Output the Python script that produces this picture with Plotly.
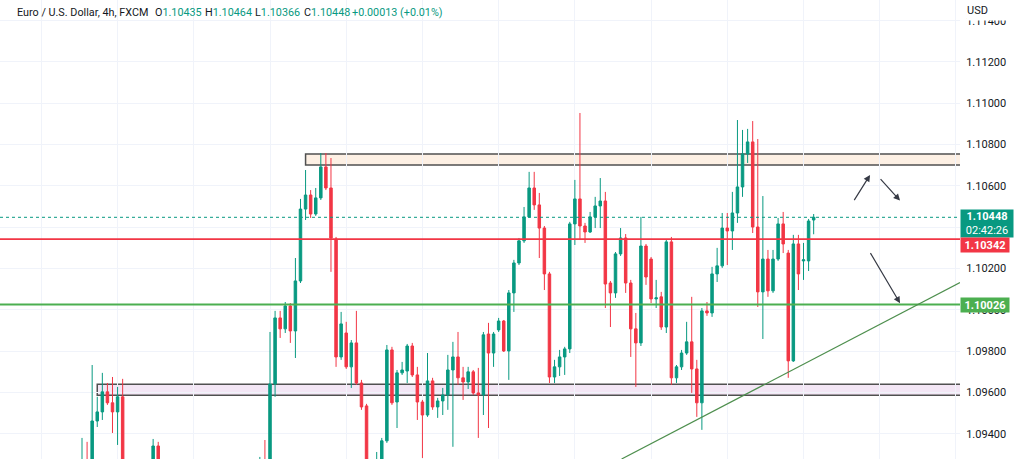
import plotly.graph_objects as go

# ---------------- data (EUR/USD 4h) ----------------
bar_index = list(range(145))

opens = [1.09201, 1.09264, 1.09249, 1.09462, 1.09506, 1.09603, 1.09550, 1.09506, 1.09579, 1.09201,
         1.09080, 1.09128, 1.09235, 1.09153, 1.09225, 1.09341, 1.09225, 1.09104, 1.09032, 1.09128,
         1.09056, 1.08983, 1.09080, 1.09128, 1.09056, 1.09104, 1.09177, 1.09128, 1.09201, 1.09153,
         1.09225, 1.09185, 1.09235, 1.09177, 1.09215, 1.09177, 1.09264, 1.09235, 1.09641, 1.09961,
         1.09908, 1.10019, 1.09898, 1.10140, 1.10488, 1.10556, 1.10464, 1.10542, 1.10692, 1.10590,
         1.10343, 1.09772, 1.09888, 1.09724, 1.09840, 1.09646, 1.09535, 1.09235, 1.09196, 1.09264,
         1.09366, 1.09806, 1.09554, 1.09695, 1.09704, 1.09825, 1.09685, 1.09554, 1.09491, 1.09656,
         1.09530, 1.09559, 1.09588, 1.09709, 1.09772, 1.09671, 1.09651, 1.09700, 1.09598, 1.09588,
         1.09883, 1.09791, 1.09903, 1.09946, 1.09801, 1.10082, 1.10227, 1.10334, 1.10450, 1.10590,
         1.10508, 1.10396, 1.10174, 1.09675, 1.09724, 1.09772, 1.09811, 1.10416, 1.10537, 1.10406,
         1.10377, 1.10450, 1.10503, 1.10527, 1.10130, 1.10082, 1.10271, 1.10348, 1.10130, 1.09908,
         1.09840, 1.10309, 1.10246, 1.10053, 1.10063, 1.09917, 1.10329, 1.09671, 1.09724, 1.09791,
         1.09845, 1.09714, 1.09550, 1.09995, 1.09985, 1.10174, 1.10213, 1.10396, 1.10382, 1.10469,
         1.10595, 1.10755, 1.10813, 1.10401, 1.10087, 1.10246, 1.10092, 1.10246, 1.10416, 1.10275,
         1.09753, 1.10319, 1.10237, 1.10237, 1.10435]

highs = [1.09380, 1.09361, 1.09733, 1.09579, 1.09695, 1.09646, 1.09675, 1.09627, 1.09666, 1.09225,
         1.09153, 1.09259, 1.09264, 1.09249, 1.09375, 1.09361, 1.09245, 1.09120, 1.09140, 1.09150,
         1.09070, 1.09090, 1.09140, 1.09140, 1.09120, 1.09190, 1.09190, 1.09210, 1.09220, 1.09240,
         1.09240, 1.09250, 1.09250, 1.09230, 1.09240, 1.09288, 1.09370, 1.09893, 1.09995, 1.09995,
         1.10038, 1.10033, 1.10251, 1.10537, 1.10677, 1.10580, 1.10590, 1.10759, 1.10759, 1.10735,
         1.10353, 1.09990, 1.09942, 1.09854, 1.09995, 1.09661, 1.09545, 1.09264, 1.09312, 1.09380,
         1.09830, 1.09821, 1.09709, 1.09748, 1.09835, 1.09840, 1.09724, 1.09564, 1.09791, 1.09671,
         1.09574, 1.09622, 1.09782, 1.09845, 1.09893, 1.09724, 1.09724, 1.09709, 1.09719, 1.09893,
         1.09937, 1.09893, 1.09961, 1.09951, 1.10096, 1.10242, 1.10348, 1.10498, 1.10668, 1.10668,
         1.10566, 1.10406, 1.10184, 1.09758, 1.09806, 1.09821, 1.10426, 1.10629, 1.10953, 1.10421,
         1.10474, 1.10547, 1.10638, 1.10571, 1.10140, 1.10280, 1.10396, 1.10367, 1.10145, 1.09985,
         1.10450, 1.10319, 1.10256, 1.10145, 1.10087, 1.10338, 1.10353, 1.09733, 1.09806, 1.09942,
         1.10063, 1.09758, 1.10009, 1.10038, 1.10208, 1.10300, 1.10469, 1.10469, 1.10571, 1.10919,
         1.10871, 1.10876, 1.10914, 1.10827, 1.10551, 1.10290, 1.10290, 1.10445, 1.10474, 1.10290,
         1.10363, 1.10363, 1.10324, 1.10440, 1.10464]

lows = [1.09177, 1.09185, 1.09225, 1.09433, 1.09467, 1.09540, 1.09404, 1.09346, 1.09153, 1.09056,
        1.09056, 1.09104, 1.09128, 1.09119, 1.09201, 1.09185, 1.09080, 1.09010, 1.09000, 1.09040,
        1.08960, 1.08970, 1.09060, 1.09030, 1.09040, 1.09090, 1.09110, 1.09110, 1.09130, 1.09140,
        1.09170, 1.09170, 1.09160, 1.09160, 1.09150, 1.09153, 1.09201, 1.09215, 1.09579, 1.09864,
        1.09888, 1.09840, 1.09767, 1.10130, 1.10435, 1.10445, 1.10455, 1.10532, 1.10580, 1.10184,
        1.09724, 1.09758, 1.09714, 1.09622, 1.09637, 1.09516, 1.09185, 1.09177, 1.09177, 1.09225,
        1.09356, 1.09540, 1.09428, 1.09685, 1.09646, 1.09675, 1.09467, 1.09283, 1.09482, 1.09516,
        1.09477, 1.09491, 1.09516, 1.09337, 1.09637, 1.09564, 1.09617, 1.09588, 1.09380, 1.09491,
        1.09428, 1.09724, 1.09893, 1.09796, 1.09661, 1.09990, 1.10217, 1.10324, 1.10445, 1.10484,
        1.10251, 1.10096, 1.09646, 1.09646, 1.09680, 1.09685, 1.09791, 1.10314, 1.10338, 1.10324,
        1.10372, 1.10396, 1.10396, 1.10009, 1.09917, 1.10058, 1.10261, 1.10082, 1.09772, 1.09627,
        1.09825, 1.10121, 1.10033, 1.10009, 1.09903, 1.09888, 1.09637, 1.09646, 1.09709, 1.09782,
        1.09598, 1.09482, 1.09419, 1.09971, 1.09966, 1.10135, 1.10203, 1.10217, 1.10290, 1.10421,
        1.10547, 1.10711, 1.10372, 1.10014, 1.09859, 1.10063, 1.10082, 1.10237, 1.10275, 1.09671,
        1.09748, 1.10096, 1.10145, 1.10188, 1.10366]

closes = [1.09264, 1.09225, 1.09462, 1.09506, 1.09603, 1.09550, 1.09506, 1.09579, 1.09201, 1.09080,
          1.09128, 1.09235, 1.09153, 1.09225, 1.09341, 1.09225, 1.09104, 1.09032, 1.09128, 1.09056,
          1.08983, 1.09080, 1.09128, 1.09056, 1.09104, 1.09177, 1.09128, 1.09201, 1.09153, 1.09225,
          1.09185, 1.09235, 1.09177, 1.09215, 1.09177, 1.09264, 1.09235, 1.09641, 1.09961, 1.09908,
          1.10019, 1.09898, 1.10140, 1.10488, 1.10556, 1.10464, 1.10542, 1.10692, 1.10590, 1.10348,
          1.09772, 1.09932, 1.09724, 1.09840, 1.09646, 1.09530, 1.09225, 1.09196, 1.09274, 1.09366,
          1.09806, 1.09550, 1.09695, 1.09709, 1.09825, 1.09685, 1.09554, 1.09491, 1.09656, 1.09530,
          1.09559, 1.09588, 1.09709, 1.09772, 1.09671, 1.09651, 1.09700, 1.09598, 1.09588, 1.09879,
          1.09791, 1.09883, 1.09946, 1.09801, 1.10082, 1.10227, 1.10334, 1.10450, 1.10590, 1.10508,
          1.10396, 1.10174, 1.09675, 1.09724, 1.09772, 1.09811, 1.10416, 1.10537, 1.10406, 1.10377,
          1.10450, 1.10503, 1.10527, 1.10125, 1.10082, 1.10271, 1.10348, 1.10130, 1.09908, 1.09840,
          1.10309, 1.10159, 1.10053, 1.10058, 1.09917, 1.10329, 1.09671, 1.09724, 1.09791, 1.09845,
          1.09714, 1.09550, 1.09995, 1.09985, 1.10174, 1.10213, 1.10396, 1.10382, 1.10469, 1.10595,
          1.10755, 1.10813, 1.10401, 1.10087, 1.10246, 1.10092, 1.10246, 1.10416, 1.10319, 1.09753,
          1.10319, 1.10174, 1.10242, 1.10430, 1.10448]

price_ticks = [1.09400, 1.09600, 1.09800, 1.10000, 1.10200, 1.10400, 1.10600, 1.10800,
               1.11000, 1.11200, 1.11400]
# 1.10400 sits under the live-price badge, so its text is not shown
price_tick_labels = ["1.09400", "1.09600", "1.09800", "1.10000", "1.10200", "",
                     "1.10600", "1.10800", "1.11000", "1.11200", "1.11400"]

last_price = 1.10448
countdown = "02:42:26"
red_level = 1.10342
green_level = 1.10026

supply_zone = [1.10701, 1.10755]   # bottom, top
supply_start = 44
demand_zone = [1.09587, 1.09640]
demand_start = 3

trend_x = [106.2, 172.8]
trend_y = [1.09278, 1.10132]

arrows = [  # (x_start, y_start, x_end, y_end)
    (151.8, 1.10524, 155.1, 1.10653),
    (156.9, 1.10640, 161.0, 1.10529),
    (155.0, 1.10282, 161.0, 1.10032),
]

header_parts = [
    ("Euro / U.S. Dollar, 4h, FXCM", 15, "#131722"),
    ("O<span style='color:#089981'>1.10435</span>", 152.7, "#131722"),
    ("H<span style='color:#089981'>1.10464</span>", 202.7, "#131722"),
    ("L<span style='color:#089981'>1.10366</span>", 252.7, "#131722"),
    ("C<span style='color:#089981'>1.10448</span>", 301.7, "#131722"),
    ("+0.00013 (+0.01%)", 350, "#089981"),
]

# ---------------- figure ----------------
W, H = 1024, 459
PLOT_W = 960
FONT = "Roboto"
UP, DOWN = "#089981", "#f23645"

fig = go.Figure()
fig.add_trace(go.Candlestick(
    x=bar_index, open=opens, high=highs, low=lows, close=closes,
    increasing=dict(line=dict(color=UP, width=1), fillcolor=UP),
    decreasing=dict(line=dict(color=DOWN, width=1), fillcolor=DOWN),
    whiskerwidth=0, hoverinfo="skip", showlegend=False,
))

shapes = []
shapes.append(dict(type="rect", xref="x", yref="y", x0=supply_start, x1=180,
                   y0=supply_zone[0], y1=supply_zone[1],
                   fillcolor="#fdf0e4", line=dict(color="#505050", width=1.5), layer="below"))
shapes.append(dict(type="rect", xref="x", yref="y", x0=demand_start, x1=180,
                   y0=demand_zone[0], y1=demand_zone[1],
                   fillcolor="#f3e6f5", line=dict(color="#505050", width=1.5), layer="below"))
shapes.append(dict(type="line", xref="paper", yref="y", x0=0, x1=1, y0=last_price, y1=last_price,
                   line=dict(color=UP, width=1, dash="dot")))
shapes.append(dict(type="line", xref="paper", yref="y", x0=0, x1=1, y0=red_level, y1=red_level,
                   line=dict(color="#f23645", width=1.7)))
shapes.append(dict(type="line", xref="paper", yref="y", x0=0, x1=1, y0=green_level, y1=green_level,
                   line=dict(color="#4caf50", width=1.8)))
shapes.append(dict(type="line", xref="x", yref="y", x0=trend_x[0], x1=trend_x[1],
                   y0=trend_y[0], y1=trend_y[1], line=dict(color="#4e8f4e", width=1.2)))

annotations = []
for xs, ys, xe, ye in arrows:
    annotations.append(dict(x=xe, y=ye, ax=xs, ay=ys, xref="x", yref="y", axref="x", ayref="y",
                            showarrow=True, arrowhead=2, arrowsize=1.1, arrowwidth=1.2,
                            arrowcolor="#363a45", text=""))

for txt, px, col in header_parts:
    annotations.append(dict(x=px / PLOT_W, y=1 - 12 / H, xref="paper", yref="paper",
                            xanchor="left", yanchor="middle", showarrow=False, text=txt,
                            font=dict(family=FONT, size=10.8, color=col)))

# "USD" caption over the top of the price scale (partly hides the 1.11400 label)
annotations.append(dict(x=1.0 + 6 / PLOT_W, y=1.0, xref="paper", yref="paper",
                        xanchor="left", yanchor="top", showarrow=False, text="USD",
                        width=52, height=19, align="left", valign="middle",
                        bgcolor="white", borderpad=0,
                        font=dict(family=FONT, size=11, color="#131722")))

def price_box(y_px, text, color, height, width):
    return dict(x=1.0, y=1 - y_px / H, xref="paper", yref="paper", xanchor="left",
                yanchor="middle", showarrow=False, text=text, bgcolor=color,
                width=width, height=height, borderpad=1, align="center",
                font=dict(family=FONT, size=11, color="white"))

annotations.append(price_box(223.5, "<b>1.10448</b><br>" + countdown, UP, 25, 50))
annotations.append(price_box(245, "<b>1.10342</b>", "#f23645", 12, 46))
annotations.append(price_box(304.5, "<b>1.10026</b>", "#4caf50", 12, 46))

y_top = 1.11500
y_bot = 1.09278
fig.update_layout(
    width=W, height=H,
    margin=dict(l=0, r=W - PLOT_W, t=0, b=0),
    paper_bgcolor="white", plot_bgcolor="white",
    shapes=shapes, annotations=annotations,
    hovermode=False, dragmode=False,
    xaxis=dict(range=[-16.14, 172.8], rangeslider=dict(visible=False),
               showticklabels=False, tickmode="linear", tick0=7, dtick=15,
               showgrid=True, gridcolor="#f0f3fa", gridwidth=1, zeroline=False,
               showline=False, ticks=""),
    yaxis=dict(range=[y_bot, y_top], side="right", tickmode="array",
               tickvals=price_ticks, ticktext=price_tick_labels,
               showgrid=True, gridcolor="#f0f3fa", gridwidth=1, zeroline=False,
               showline=False, ticks="outside", ticklen=3, tickcolor="rgba(0,0,0,0)",
               tickfont=dict(family=FONT, size=11, color="#131722")),
)

fig.write_html("out.html", config={"displayModeBar": False, "staticPlot": True})
